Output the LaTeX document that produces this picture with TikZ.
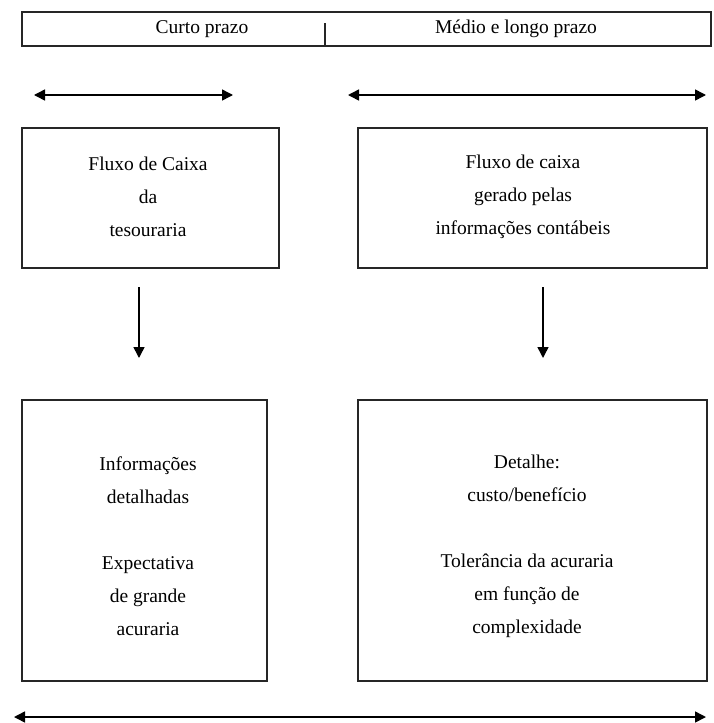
\documentclass[tikz,border=0pt]{standalone}
\usepackage{fontspec}
\setmainfont{Liberation Serif}
\usetikzlibrary{arrows.meta}
\begin{document}
\begin{tikzpicture}[x=1pt,y=-1pt,
  boxline/.style={draw=black!85, line width=1.6pt},
  frame/.style={boxline, rectangle, inner sep=0pt},
  txt/.style={font=\fontsize{19.5}{33}\selectfont, align=center, inner sep=0pt, text=black},
  conn/.style={line width=1.5pt, draw=black},
  both/.style={conn, {Triangle[length=11pt,width=11pt]}-{Triangle[length=11pt,width=11pt]}},
  down/.style={conn, -{Triangle[length=11pt,width=11pt]}}
]
\useasboundingbox (0,0) rectangle (713,723);

% top bar
\node[frame, minimum width=689pt, minimum height=34pt] (bar) at (366.5,29) {};
\coordinate (divtop) at (325,23);
\coordinate (divbot) at (325,46);
\draw[boxline, line width=1.2pt] (divtop) -- (divbot);
\node[txt] (curto) at (202,29) {Curto prazo};
\node[txt] (medio) at (516,29) {Médio e longo prazo};

% horizontal double arrows
\coordinate (a1l) at (34,95);  \coordinate (a1r) at (233,95);
\coordinate (a2l) at (348,95); \coordinate (a2r) at (706,95);
\draw[both] (a1l) -- (a1r);
\draw[both] (a2l) -- (a2r);

% upper boxes
\node[frame, minimum width=257pt, minimum height=140pt] (b1) at (150.5,198) {};
\node[frame, minimum width=349pt, minimum height=140pt] (b2) at (532.5,198) {};
\node[txt] (t1) at (148,196.5) {Fluxo de Caixa\\da\\tesouraria};
\node[txt] (t2) at (523,196.5) {Fluxo de caixa\\gerado pelas\\informações contábeis};

% down arrows
\coordinate (d1s) at (139,287); \coordinate (d1e) at (139,358);
\coordinate (d2s) at (543,287); \coordinate (d2e) at (543,358);
\draw[down] (d1s) -- (d1e);
\draw[down] (d2s) -- (d2e);

% lower boxes
\node[frame, minimum width=245pt, minimum height=281pt] (b3) at (144.5,540.5) {};
\node[frame, minimum width=349pt, minimum height=281pt] (b4) at (532.5,540.5) {};
\node[txt] (t3) at (148,546.5) {Informações\\detalhadas\\[33pt]Expectativa\\de grande\\acuraria};
\node[txt] (t4) at (527,546.5) {Detalhe:\\custo/benefício\\[33pt]Tolerância da acuraria\\em função de\\complexidade};

% bottom arrow
\coordinate (bl) at (14,717); \coordinate (br) at (706,717);
\draw[both] (bl) -- (br);
\end{tikzpicture}
\end{document}
